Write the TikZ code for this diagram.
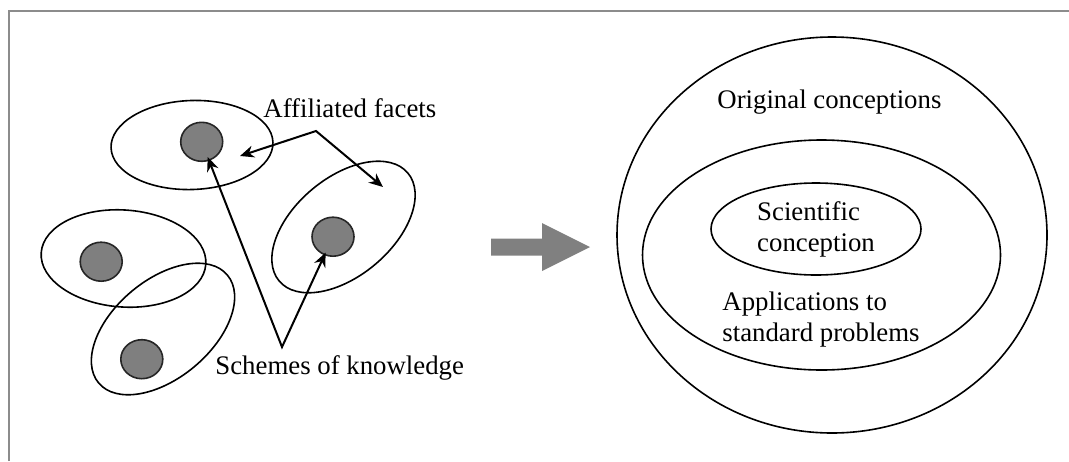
\documentclass[tikz,border=0pt]{standalone}
\usepackage{fontspec}
\setmainfont{Liberation Serif}
\usetikzlibrary{shapes.geometric,arrows.meta}
\definecolor{framecol}{HTML}{8C8C8C}
\definecolor{dotfill}{HTML}{7F7F7F}
\begin{document}
\begin{tikzpicture}[x=0.5pt,y=-0.5pt,
  txt/.style={inner sep=0pt, font=\fontsize{13.4}{15.5}\selectfont},
  ring/.style={draw, ellipse, line width=0.8pt, inner sep=0pt},
  dot/.style={draw=black!85, fill=dotfill, ellipse, line width=0.8pt,
              minimum width=21pt, minimum height=19.5pt, inner sep=0pt},
  pointer/.style={line width=1pt, line join=miter,
     {Stealth[length=7pt,width=6pt]}-{Stealth[length=7pt,width=6pt]}},
  bigarrow/.style={fill=gray}]
\useasboundingbox (0,0) rectangle (1069,461);
% frame
\draw[framecol, line width=1.25pt] (9,461) -- (9,11) -- (1069,11);
% left part: schemes with facets
\node[ring, minimum width=81pt, minimum height=44.5pt, rotate=2]  (E1) at (192,145) {};
\node[ring, minimum width=82.5pt, minimum height=48.5pt, rotate=-4] (E3) at (123.5,258.5) {};
\node[ring, minimum width=84pt, minimum height=49pt, rotate=40] (E4) at (163,329) {};
\node[ring, minimum width=84pt, minimum height=49pt, rotate=40] (E2) at (343.5,227) {};
\node[dot] (D1) at (201.7,141.8) {};
\node[dot] (D2) at (333,236.7) {};
\node[dot] (D3) at (101.2,261.7) {};
\node[dot] (D4) at (141.8,359.2) {};
\node[txt, anchor=base west] (affil) at (263,117) {Affiliated facets};
\node[txt, anchor=base west] (schemes) at (215,374) {Schemes of knowledge};
\coordinate (apexA) at (316,131);
\coordinate (tipA1) at (240,156);
\coordinate (tipA2) at (383,187);
\coordinate (apexS) at (282,347);
\draw[pointer] (tipA1) -- (apexA) -- (tipA2);
\draw[pointer, shorten <=-2pt, shorten >=-1.5pt] (D1) -- (apexS) -- (D2);
% big arrow
\fill[bigarrow] (491,238.5) -- (542,238.5) -- (542,223) -- (590,247)
  -- (542,271) -- (542,255.5) -- (491,255.5) -- cycle;
% right part
\node[ring, minimum width=215pt, minimum height=198pt] (outer) at (832,235) {};
\node[ring, minimum width=179pt, minimum height=115pt] (middle) at (821.5,255) {};
\node[ring, minimum width=105pt, minimum height=46pt, align=left,
      font=\fontsize{13.4}{15.5}\selectfont] (inner) at (816,229) {Scientific\\conception};
\node[txt, anchor=base west] (orig) at (717,108) {Original conceptions};
\node[txt, anchor=base west, align=left] (appl) at (722,341) {Applications to\\standard problems};
\end{tikzpicture}
\end{document}
